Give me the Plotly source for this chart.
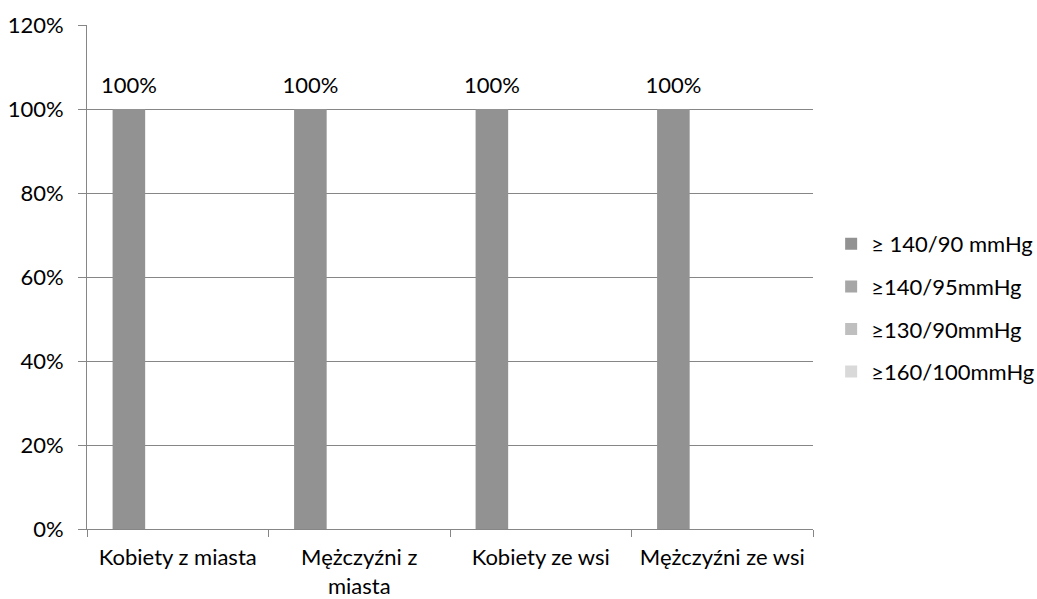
import plotly.graph_objects as go

categories = ["Kobiety z miasta", "Mężczyźni z miasta", "Kobiety ze wsi", "Mężczyźni ze wsi"]
tick_labels = ["Kobiety z miasta", "Mężczyźni z<br>miasta", "Kobiety ze wsi", "Mężczyźni ze wsi"]
series_names = ["≥ 140/90 mmHg", "≥140/95mmHg", "≥130/90mmHg", "≥160/100mmHg"]
s1 = [1.0, 1.0, 1.0, 1.0]
s2 = [None, None, None, None]
s3 = [None, None, None, None]
s4 = [None, None, None, None]
y_ticks = [0, 0.2, 0.4, 0.6, 0.8, 1.0, 1.2]
y_tick_labels = ["0%", "20%", "40%", "60%", "80%", "100%", "120%"]

colors = ["#929292", "#a6a6a6", "#bfbfbf", "#d9d9d9"]
FONT = "Lato"
FS = 22

fig = go.Figure()
all_series = [s1, s2, s3, s4]
for i, (name, vals) in enumerate(zip(series_names, all_series)):
    fig.add_trace(go.Bar(
        x=categories, y=vals, name=name,
        marker=dict(color=colors[i], line=dict(width=0)),
        offsetgroup=str(i), alignmentgroup="a",
        legendgroup=f"g{i}",
    ))
for i, vals in enumerate(all_series):
    texts = [f"{v*100:.0f}%" if v is not None else "" for v in vals]
    fig.add_trace(go.Scatter(
        x=categories, y=vals, mode="markers+text", text=texts,
        marker=dict(size=15, color="rgba(0,0,0,0)"),
        textposition="top center",
        textfont=dict(family=FONT, size=FS, color="#000000"),
        offsetgroup=str(i), alignmentgroup="a",
        showlegend=False, cliponaxis=False, hoverinfo="skip",
    ))

fig.update_layout(
    width=1037, height=599,
    margin=dict(l=87, r=224, t=25, b=70, autoexpand=False),
    paper_bgcolor="white", plot_bgcolor="white",
    barmode="group", bargap=0.282, bargroupgap=0,
    scattermode="group", scattergap=0.282,
    font=dict(family=FONT, size=FS, color="#000000"),
    showlegend=True,
    legend=dict(x=1.025, y=0.4385, xanchor="left", yanchor="middle",
                font=dict(family=FONT, size=FS, color="#000000"),
                tracegroupgap=11, bgcolor="rgba(0,0,0,0)"),
    xaxis=dict(
        type="category", tickmode="array", tickvals=categories, ticktext=tick_labels,
        tickson="boundaries", ticks="outside", ticklen=7, tickcolor="#868686",
        ticklabelstandoff=9, tickangle=0, automargin=False,
        showline=True, linecolor="#868686", linewidth=1, showgrid=False,
        tickfont=dict(family=FONT, size=FS, color="#000000"),
    ),
    yaxis=dict(
        range=[0, 1.2], tickmode="array", tickvals=y_ticks, ticktext=y_tick_labels,
        ticks="outside", ticklen=8, tickcolor="#868686",
        ticklabelstandoff=10, automargin=False,
        showline=True, linecolor="#868686", linewidth=1,
        showgrid=True, gridcolor="#868686", gridwidth=1, zeroline=False,
        tickfont=dict(family=FONT, size=FS, color="#000000"),
    ),
)

fig.write_html("out.html")
